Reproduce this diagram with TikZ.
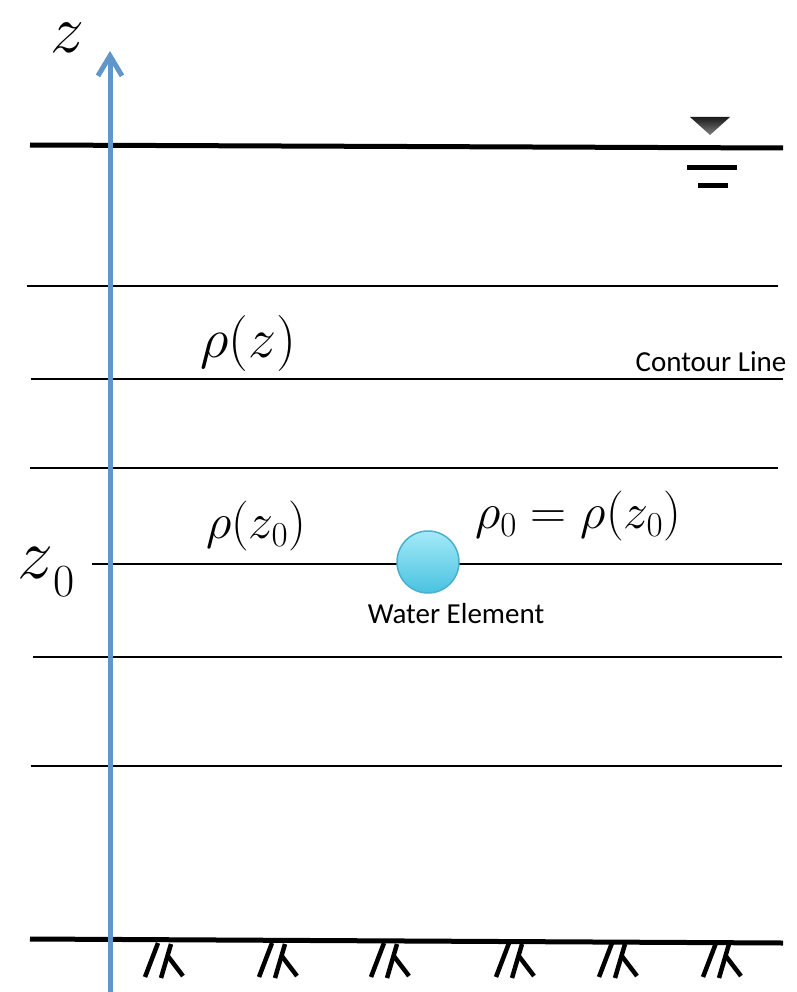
\RequirePackage{fix-cm}
\documentclass[tikz,border=0pt]{standalone}
\usepackage{xcolor}
\usepackage{fontspec}
\newfontfamily\notefont{Carlito}
\usepackage{tikz}
\usetikzlibrary{positioning,arrows.meta}

\definecolor{axisblue}{RGB}{98,150,202}
\definecolor{dropedge}{RGB}{75,175,205}
\definecolor{droptop}{RGB}{165,234,248}
\definecolor{dropbot}{RGB}{72,194,224}

\begin{document}
\begin{tikzpicture}[x=1pt,y=-1pt,
  level/.style={draw=black,line width=2.5pt},
  ground/.style={draw=black,line width=5pt},
  hatch/.style={draw=black,line width=4.5pt},
  axis/.style={draw=axisblue,line width=5pt,-{Straight Barb[length=20pt,width=24pt]}},
  sym/.style={inner sep=0pt,font=\fontsize{50}{50}\selectfont},
  note/.style={inner sep=0pt,font=\notefont\fontsize{29}{29}\selectfont},
  element/.style={circle,draw=dropedge,line width=1.5pt,top color=droptop,
    bottom color=dropbot,minimum size=62pt,inner sep=0pt}]
\useasboundingbox (0,0) rectangle (796,992);
% free surface and bed
\draw[ground] (30,145) -- (783,148);
\draw[ground] (30,939) -- (783,943);
% contour lines
\draw[level] (27,286) -- (778,286);
\draw[level] (31,379) -- (783,379);
\draw[level] (30,468) -- (778,468);
\draw[level] (92,564) -- (782,564);
\draw[level] (33,657) -- (782,657);
\draw[level] (31,766) -- (782,766);
% water level sign
\shade[top color=black!90,bottom color=black!50] (690,117) -- (730,117) -- (710,135) -- cycle;
\draw[ground] (687,168) -- (737,168);
\draw[ground] (698,186) -- (728,186);
% bed hatching
\foreach \hx in {145,259,371,496,599,703} {
  \draw[hatch] (\hx,977) -- ++(13,-34);
  \draw[hatch] (\hx+16,978) -- ++(10,-34);
  \draw[hatch] (\hx+22,955) -- ++(16,21);
}
% vertical axis
\coordinate (axisfoot) at (110,994);
\coordinate (axistip) at (110,51);
\draw[axis] (axisfoot) -- (axistip);
% labels
\node[sym,font=\fontsize{68}{68}\selectfont] (zlabel) at (67,38) {$z$};
\node[sym,font=\fontsize{72}{72}\selectfont] (zzero) at (46,572)
  {$z$\raisebox{-0.25em}{\fontsize{46}{46}\selectfont 0}};
\node[sym,font=\fontsize{56}{56}\selectfont] (rhoz) at (248,343) {$\rho(z)$};
\node[sym] (rhozzero) at (256,526) {$\rho(z_0)$};
\node[sym] (rhozero) at (578,516) {$\rho_0 = \rho(z_0)$};
\node[element] (element) at (428,562) {};
\node[note,below=9pt of element,xshift=28pt] (elementlabel) {Water Element};
\node[note] (contourlabel) at (711,362) {Contour Line};
\end{tikzpicture}
\end{document}
